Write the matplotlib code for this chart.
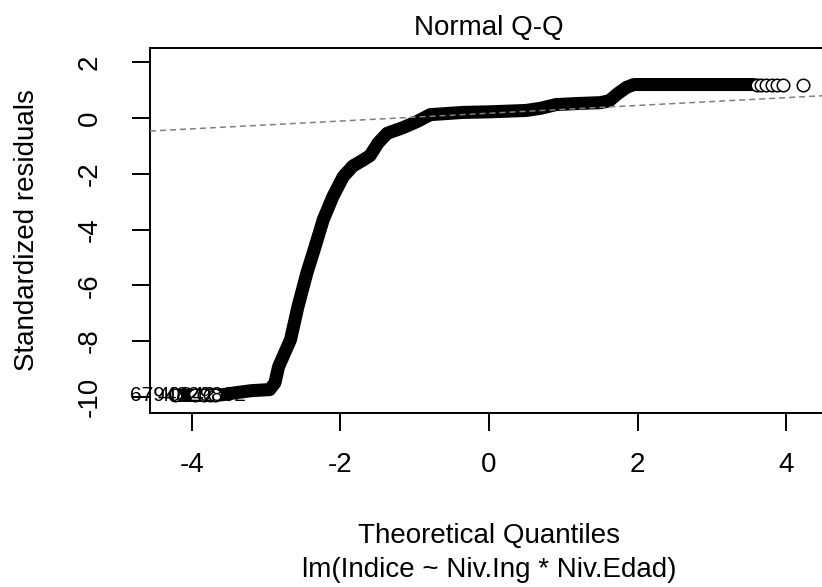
import matplotlib
matplotlib.use("Agg")
import matplotlib.pyplot as plt

# sorted standardized residuals (theoretical quantile, residual)
curve_q = [-4.22, -3.96, -3.84, -3.60, -3.40, -3.20, -2.95, -2.88, -2.83, -2.67,
           -2.57, -2.45, -2.34, -2.23, -2.10, -1.96, -1.83, -1.72, -1.60, -1.49,
           -1.37, -1.16, -0.97, -0.79, -0.35, 0.0, 0.5, 0.7, 0.9, 1.2,
           1.5, 1.62, 1.72, 1.85, 1.95, 3.56]
curve_r = [-9.95, -9.95, -9.95, -9.93, -9.85, -9.78, -9.74, -9.5, -8.92, -7.95,
           -6.77, -5.56, -4.62, -3.65, -2.82, -2.10, -1.72, -1.55, -1.35, -0.89,
           -0.55, -0.35, -0.13, 0.12, 0.20, 0.22, 0.27, 0.35, 0.48, 0.52,
           0.55, 0.62, 0.85, 1.10, 1.20, 1.20]

# the separate circles in both tails
tail_q = [-4.22, -3.96, -3.84, -3.75, -3.68, 3.60, 3.66, 3.72, 3.80, 3.88, 3.96, 4.22]
tail_r = [-9.95, -9.95, -9.95, -9.95, -9.95, 1.2, 1.2, 1.2, 1.2, 1.2, 1.2, 1.2]

# qqline through the quartiles
quart_q = [-0.6745, 0.6745]
quart_r = [0.0756, 0.2644]

# ids of the three most extreme residuals and where their text starts
id_labels = ["67948", "40842", "29862"]
id_x = [-4.83, -4.46, -4.05]
id_y = -9.95

xticks = [-4, -2, 0, 2, 4]
yticks = [2, 0, -2, -4, -6, -8, -10]

plt.rcParams['font.family'] = ['Liberation Sans', 'DejaVu Sans']
plt.rcParams['lines.scale_dashes'] = False
plt.rcParams['axes.unicode_minus'] = False

fig = plt.figure(figsize=(8.22, 5.87), dpi=100)
ax = fig.add_axes([150 / 822, 1 - 413 / 587, 678 / 822, 365 / 587])

# thick band of overlapping points + open circles at the ends
ax.plot(curve_q, curve_r, color='black', lw=9.4, solid_capstyle='round',
        solid_joinstyle='round', zorder=2)
ax.plot(tail_q, tail_r, ls='none', marker='o', ms=9, mfc='white', mec='black',
        mew=1.1, zorder=3)
ax.axline((quart_q[0], quart_r[0]), (quart_q[1], quart_r[1]), color='#7f7f7f',
          lw=1.1, dashes=(4.3, 2.9), zorder=4)

for lab, x in zip(id_labels, id_x):
    ax.text(x, id_y, lab, fontsize=15, ha='left', va='center', clip_on=False, zorder=5)

ax.set_xlim(-4.56, 4.56)
ax.set_ylim(-10.58, 2.51)
ax.set_xticks(xticks)
ax.set_yticks(yticks)
ax.set_xticklabels([str(t) for t in xticks])
ax.set_yticklabels([str(t) for t in yticks])

for s in ax.spines.values():
    s.set_linewidth(1.4)
ax.tick_params(direction='out', length=13, width=1.4, labelsize=20)
ax.tick_params(axis='x', pad=15)
ax.tick_params(axis='y', pad=21, labelrotation=90)
for lab in ax.get_yticklabels():
    lab.set_va('center')

# titles
fig.text(489 / 822, 1 - 35 / 587, "Normal Q-Q", fontsize=20, ha='center', va='baseline')
fig.text(489 / 822, 1 - 543 / 587, "Theoretical Quantiles", fontsize=20, ha='center',
         va='baseline')
fig.text(489 / 822, 1 - 577 / 587, "lm(Indice ~ Niv.Ing * Niv.Edad)", fontsize=20,
         ha='center', va='baseline')
fig.text(27 / 822, 1 - 230 / 587, "Standardized residuals", fontsize=20, rotation=90,
         ha='center', va='center')

fig.savefig("out.png", dpi=100)
